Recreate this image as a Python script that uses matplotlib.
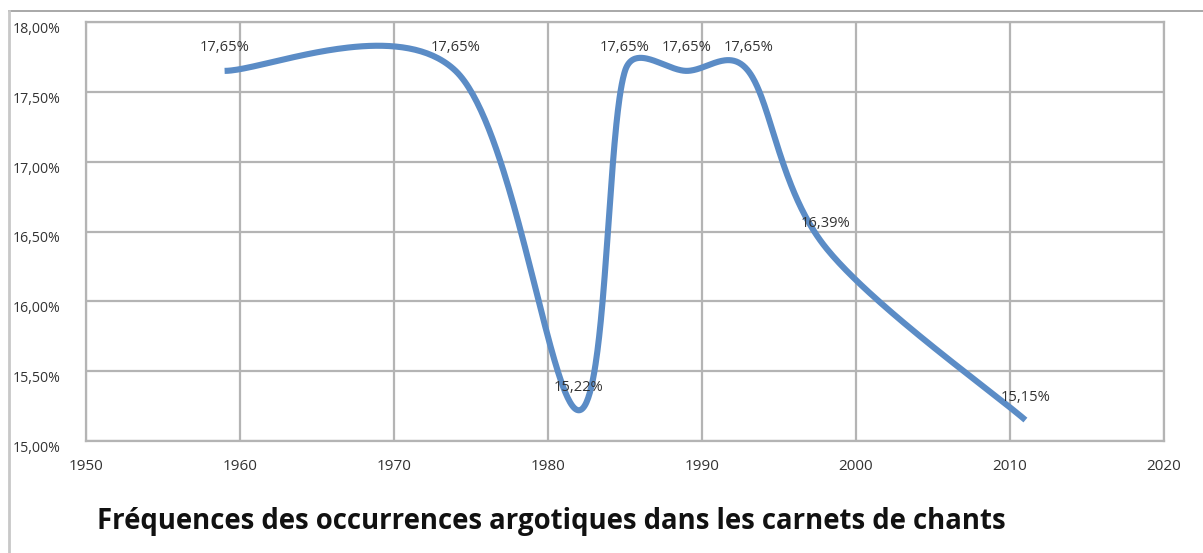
import matplotlib
matplotlib.use("Agg")
import matplotlib.pyplot as plt
from matplotlib.lines import Line2D
import numpy as np

# data
years = [1959, 1974, 1982, 1985, 1989, 1993, 1998, 2011]
values = [17.65, 17.65, 15.22, 17.65, 17.65, 17.65, 16.39, 15.15]
x_ticks = [1950, 1960, 1970, 1980, 1990, 2000, 2010, 2020]
y_ticks = [15.0, 15.5, 16.0, 16.5, 17.0, 17.5, 18.0]
title = "Fréquences des occurrences argotiques dans les carnets de chants"

W, H = 1203, 553
LINE_COLOR = "#5b8cc6"
GRID_COLOR = "#b4b4b4"
TEXT_COLOR = "#333333"


def fr_pct(v):
    return "{:.2f}%".format(v).replace(".", ",")


def smooth_curve(ax, xs, ys, n=80):
    # excel-like smoothed line: bezier segments with catmull-rom control
    # points, arms capped to half the neighbouring segment (in screen space)
    p = ax.transData.transform(np.column_stack([xs, ys]).astype(float))
    pad = np.vstack([p[:1], p, p[-1:]])
    f = 1 / 6

    def arm(i, direction):
        v = f * (pad[i + 2] - pad[i])
        nb = p[i + direction] if 0 <= i + direction < len(p) else p[i]
        seg = np.linalg.norm(nb - p[i])
        L = np.linalg.norm(v)
        if L > seg / 2 and L > 0:
            v = v * (seg / 2) / L
        return v

    out = []
    for i in range(len(p) - 1):
        p0, p1 = p[i], p[i + 1]
        c1 = p0 + arm(i, 1)
        c2 = p1 - arm(i + 1, -1)
        t = np.linspace(0, 1, n)[:, None]
        seg = ((1 - t) ** 3) * p0 + 3 * ((1 - t) ** 2) * t * c1 \
            + 3 * (1 - t) * t ** 2 * c2 + t ** 3 * p1
        out.append(seg if i == 0 else seg[1:])
    c = ax.transData.inverted().transform(np.vstack(out))
    return c[:, 0], c[:, 1]


fig = plt.figure(figsize=(W / 100, H / 100), dpi=100)
fig.patch.set_facecolor("white")

left, right, top, bottom = 86, 1164, 22, 441
ax = fig.add_axes([left / W, 1 - bottom / H, (right - left) / W, (bottom - top) / H])
ax.set_xlim(1950, 2020)
ax.set_ylim(15, 18)

sx, sy = smooth_curve(ax, years, values)
ax.plot(sx, sy, color=LINE_COLOR, lw=4.4, solid_capstyle="butt", zorder=3)

for x, y in zip(years, values):
    ax.annotate(fr_pct(y), (x, y), xytext=(0, 16.5), textcoords="offset points",
                ha="center", va="center", fontsize=10.6, family="Open Sans",
                color=TEXT_COLOR, zorder=4)

ax.set_xticks(x_ticks, [str(t) for t in x_ticks])
ax.set_yticks(y_ticks, [fr_pct(t) for t in y_ticks])
ax.grid(True, color=GRID_COLOR, lw=1.6)
ax.set_axisbelow(True)
for s in ax.spines.values():
    s.set_color(GRID_COLOR)
    s.set_linewidth(1.6)

ax.tick_params(axis="both", length=0, labelcolor=TEXT_COLOR)
ax.tick_params(axis="x", pad=13, labelsize=11)
ax.tick_params(axis="y", pad=53, labelsize=10.2)
for lbl in ax.get_yticklabels():
    lbl.set_ha("left")
    lbl.set_va("top")
    lbl.set_family("Open Sans")
for lbl in ax.get_xticklabels():
    lbl.set_family("Open Sans")

# outer chart frame (top and left edges visible)
fig.add_artist(Line2D([9 / W, 1], [1 - 11 / H, 1 - 11 / H], color="#a8a8a8", lw=1.4,
                      transform=fig.transFigure))
fig.add_artist(Line2D([9 / W, 9 / W], [0, 1 - 11 / H], color="#c8c8c8", lw=2.0,
                      transform=fig.transFigure))

fig.text(97 / W, 1 - 522 / H, title, ha="left", va="center", fontsize=19.8,
         fontweight="bold", family=["Liberation Sans Narrow", "Open Sans", "DejaVu Sans"],
         color="#111111")

fig.savefig("out.png", dpi=100)
